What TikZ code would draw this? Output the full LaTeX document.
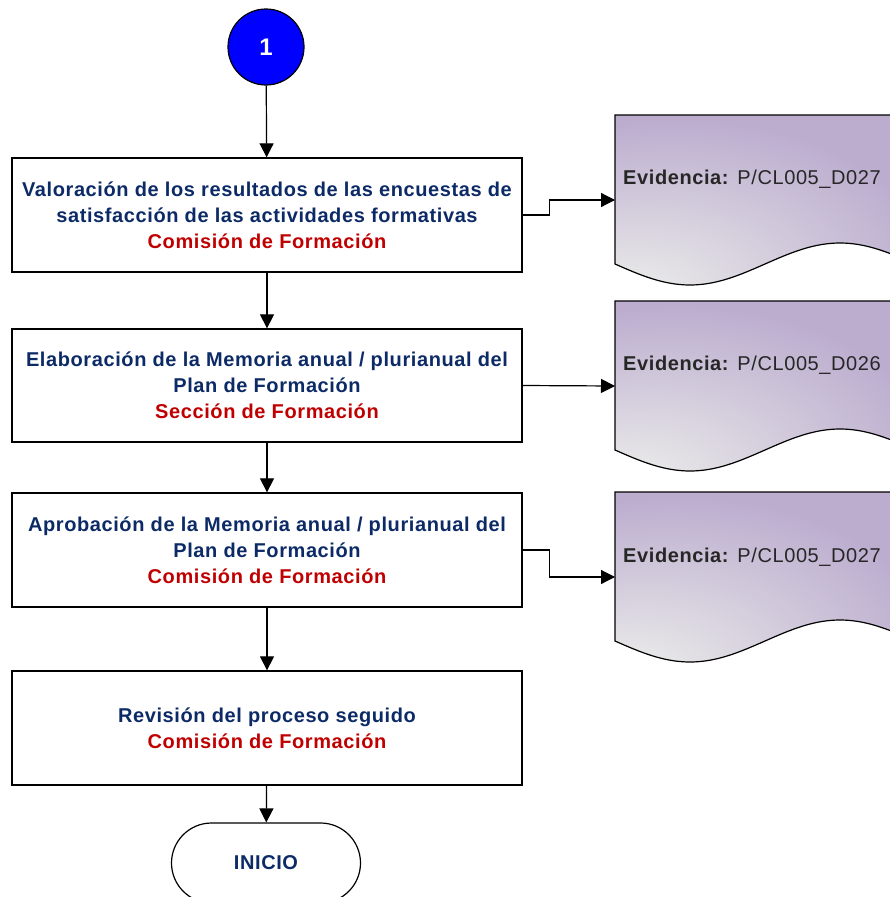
\documentclass[tikz,border=0pt]{standalone}
\usepackage{fontspec}
\setmainfont{Liberation Sans}
\newfontfamily\chartfont[LetterSpace=3]{Liberation Sans}
\usepackage{xcolor}
\usetikzlibrary{arrows.meta}
\definecolor{stepblue}{RGB}{12, 42, 102}
\definecolor{ownerred}{RGB}{192, 0, 0}
\definecolor{startblue}{RGB}{0, 0, 255}
\definecolor{docpurple}{RGB}{188, 173, 207}
\definecolor{docgray}{RGB}{232, 232, 232}
\pgfdeclareradialshading{docglow}{\pgfpoint{-25bp}{-32bp}}{color(0bp)=(docgray); color(6bp)=(docgray); color(42bp)=(docpurple); color(100bp)=(docpurple)}

\begin{document}
\begin{tikzpicture}[x=1pt, y=-1pt,
    stepbox/.style={draw, line width=1.3pt, minimum width=510pt, minimum height=114pt, align=center, text=stepblue, font=\chartfont\fontsize{20}{26}\selectfont\bfseries},
    connector/.style={draw, line width=1.2pt, -{Triangle[length=14pt, width=14pt]}},
    docshape/.style={draw, line width=1.2pt, shading=docglow},
    evtext/.style={anchor=west, inner xsep=8pt, text=black!85, font=\chartfont\fontsize{20}{24}\selectfont}]
    \useasboundingbox (0,0) rectangle (890,897);
    \clip (0,0) rectangle (890,897);

    % Start connector
    \node[circle, draw, line width=1.2pt, fill=startblue, minimum size=76pt, text=white, font=\fontsize{24}{24}\selectfont\bfseries] (start) at (266,47) {1};

    % Process steps
    \node[stepbox] (val) at (267,215) {Valoración de los resultados de las encuestas de \\ satisfacción de las actividades formativas \\ \textcolor{ownerred}{Comisión de Formación}};
    \node[stepbox, minimum height=113pt] (ela) at (267,385.5) {Elaboración de la Memoria anual / plurianual del \\ Plan de Formación \\ \textcolor{ownerred}{Sección de Formación}};
    \node[stepbox] (apr) at (267,550) {Aprobación de la Memoria anual / plurianual del \\ Plan de Formación \\ \textcolor{ownerred}{Comisión de Formación}};
    \node[stepbox] (rev) at (267,728) {Revisión del proceso seguido \\ \textcolor{ownerred}{Comisión de Formación}};

    % End terminal
    \node[draw, line width=1.2pt, rounded corners=40pt, minimum width=189pt, minimum height=80pt, text=stepblue, font=\chartfont\fontsize{20}{24}\selectfont\bfseries] (inicio) at (266,863) {INICIO};

    % Evidence documents
    \shadedraw[docshape] (615,115) -- (915,115) -- (915,264) sin (840,243) cos (765,264) sin (690,285) cos (615,264) -- cycle;
    \node[evtext] (ev1) at (615,179) {\textbf{Evidencia:} P/CL005\_D027};
    \coordinate (ev1in) at (615,200);

    \shadedraw[docshape] (615,301) -- (915,301) -- (915,450) sin (840,429) cos (765,450) sin (690,471) cos (615,450) -- cycle;
    \node[evtext] (ev2) at (615,365) {\textbf{Evidencia:} P/CL005\_D026};
    \coordinate (ev2in) at (615,386);

    \shadedraw[docshape] (615,492) -- (915,492) -- (915,641) sin (840,620) cos (765,641) sin (690,662) cos (615,641) -- cycle;
    \node[evtext] (ev3) at (615,557) {\textbf{Evidencia:} P/CL005\_D027};
    \coordinate (ev3in) at (615,577);

    % Main flow
    \draw[connector] (start) -- (val);
    \draw[connector] (val) -- (ela);
    \draw[connector] (ela) -- (apr);
    \draw[connector] (apr) -- (rev);
    \draw[connector] (rev) -- (inicio);

    % Links to evidence
    \draw[connector] (val.east) -- ++(27,0) |- (ev1in);
    \draw[connector] (ela.east) -- (ev2in);
    \draw[connector] (apr.east) -- ++(27,0) |- (ev3in);
\end{tikzpicture}
\end{document}
